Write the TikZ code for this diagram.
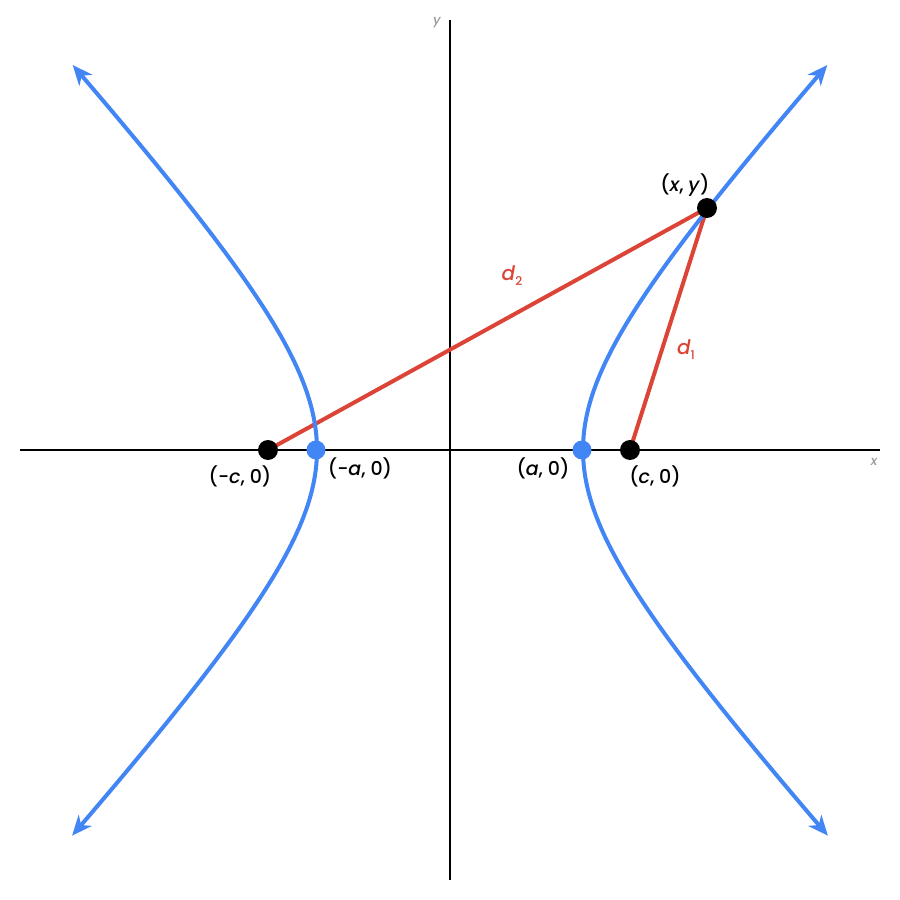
\documentclass[tikz,border=0pt]{standalone}
\usepackage{fontspec}
\setmainfont{Poppins}[UprightFont=* Medium,ItalicFont=* Medium Italic,BoldFont=* SemiBold]
\usetikzlibrary{arrows.meta}
\definecolor{hblue}{HTML}{4285F4}
\definecolor{hred}{HTML}{DB4437}
\definecolor{lgray}{HTML}{999999}
\begin{document}
\begin{tikzpicture}[x=1pt,y=1pt,
  axisline/.style={line width=1.5pt,black},
  curve/.style={line width=4pt,hblue,{Stealth[length=20pt,width=17pt,inset=6pt]}-{Stealth[length=20pt,width=17pt,inset=6pt]}},
  dist/.style={line width=4pt,hred},
  bdot/.style={circle,fill=black,inner sep=0pt,minimum size=20pt},
  udot/.style={circle,fill=hblue,inner sep=0pt,minimum size=19pt},
  lab/.style={font=\fontsize{19}{22}\selectfont,inner sep=0pt},
  dlab/.style={font=\fontsize{20}{23}\selectfont,text=hred,inner sep=0pt},
  axlab/.style={font=\fontsize{13}{15}\selectfont\itshape,text=lgray,inner sep=0pt}]
\useasboundingbox (-450,-450) rectangle (450,450);
\coordinate (xl) at (-430,0);
\coordinate (xr) at (430,0);
\coordinate (yb) at (0,-430);
\coordinate (yt) at (0,430);
\draw[axisline] (xl) -- (xr);
\draw[axisline] (yb) -- (yt);
\node[axlab] (xlab) at (424,-12) {x};
\node[axlab] (ylab) at (-13,427) {y};
\coordinate (F1) at (-182,0);
\coordinate (F2) at (180,0);
\coordinate (P) at (257,242);
\draw[dist] (F1) -- (P);
\draw[dist] (F2) -- (P);
\draw[curve] plot[domain=-1.705:1.705,samples=120,smooth] ({133*cosh(\x)},{145*sinh(\x)});
\draw[curve] plot[domain=-1.705:1.705,samples=120,smooth] ({-133*cosh(\x)},{145*sinh(\x)});
\node[bdot] (F1d) at (F1) {};
\node[bdot] (F2d) at (F2) {};
\node[bdot] (Pd) at (P) {};
\node[udot] (V1) at (-134,0) {};
\node[udot] (V2) at (132,0) {};
\node[lab] (lF1) at (-210,-26) {(-\textit{c}, 0)};
\node[lab] (lV1) at (-90,-18) {(-\textit{a}, 0)};
\node[lab] (lV2) at (93,-18) {(\textit{a}, 0)};
\node[lab] (lF2) at (205,-26) {(\textit{c}, 0)};
\node[lab] (lP) at (235,265) {(\textit{x}, \textit{y})};
\node[dlab] (ld2) at (62,174) {\textit{d}\raisebox{-5pt}{\fontsize{12}{14}\selectfont 2}};
\node[dlab] (ld1) at (236,100) {\textit{d}\raisebox{-5pt}{\fontsize{12}{14}\selectfont 1}};
\end{tikzpicture}
\end{document}
